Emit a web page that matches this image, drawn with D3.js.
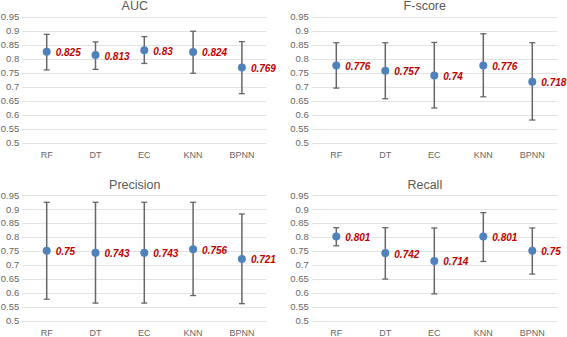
<!DOCTYPE html>
<html>
<head>
<meta charset="utf-8">
<script src="https://cdn.jsdelivr.net/npm/d3@7"></script>
<style>
  body { margin: 0; background: #fff; }
  svg { display: block; font-family: "Liberation Sans", Arial, sans-serif; }
</style>
</head>
<body>
<svg id="chart" width="567" height="337"></svg>
<script>
// models on the x axis
var categories = ["RF", "DT", "EC", "KNN", "BPNN"];
var yTicks = [0.5, 0.55, 0.6, 0.65, 0.7, 0.75, 0.8, 0.85, 0.9, 0.95];

// AUC
var aucMean = [0.825, 0.813, 0.83, 0.824, 0.769];
var aucLow  = [0.760, 0.762, 0.783, 0.748, 0.675];
var aucHigh = [0.887, 0.860, 0.879, 0.898, 0.861];

// F-score
var fMean = [0.776, 0.757, 0.74, 0.776, 0.718];
var fLow  = [0.695, 0.657, 0.624, 0.664, 0.581];
var fHigh = [0.857, 0.857, 0.858, 0.889, 0.857];

// Precision
var precMean = [0.75, 0.743, 0.743, 0.756, 0.721];
var precLow  = [0.577, 0.563, 0.563, 0.590, 0.561];
var precHigh = [0.924, 0.924, 0.924, 0.924, 0.882];

// Recall
var recMean = [0.801, 0.742, 0.714, 0.801, 0.75];
var recLow  = [0.768, 0.649, 0.596, 0.712, 0.667];
var recHigh = [0.833, 0.833, 0.832, 0.887, 0.832];

var svg = d3.select("#chart");

// panel placement (left, right, top, bottom of the plot area)
var panels = [
  {title: "AUC",       mean: aucMean,  low: aucLow,  high: aucHigh,  x0: 22.3,  x1: 266.3, y0: 16.7,  y1: 142.7},
  {title: "F-score",   mean: fMean,    low: fLow,    high: fHigh,    x0: 311.8, x1: 556.8, y0: 16.7,  y1: 142.7},
  {title: "Precision", mean: precMean, low: precLow, high: precHigh, x0: 22.3,  x1: 266.3, y0: 195,   y1: 320.7},
  {title: "Recall",    mean: recMean,  low: recLow,  high: recHigh,  x0: 311.8, x1: 556.8, y0: 195,   y1: 320.7}
];

panels.forEach(function(p) {
  var g = svg.append("g");

  var x = d3.scaleBand()
      .domain(categories)
      .range([p.x0, p.x1]);

  var y = d3.scaleLinear()
      .domain([0.5, 0.95])
      .range([p.y1, p.y0]);

  // gridlines
  g.selectAll(".grid")
    .data(yTicks)
    .enter().append("line")
      .attr("x1", p.x0)
      .attr("x2", p.x1)
      .attr("y1", function(d) { return Math.round(y(d)) + 0.5; })
      .attr("y2", function(d) { return Math.round(y(d)) + 0.5; })
      .style("stroke", "#e2e2e2")
      .style("stroke-width", 1);

  // y axis labels
  var yAxis = d3.axisLeft(y)
      .tickValues(yTicks)
      .tickSize(0)
      .tickPadding(3)
      .tickFormat(function(d) { return String(+d.toFixed(2)); });

  var gy = g.append("g")
      .attr("transform", "translate(" + p.x0 + ",0)")
      .call(yAxis);
  gy.select(".domain").remove();
  gy.selectAll("text")
      .style("font-family", "Liberation Sans, Arial, sans-serif")
      .style("font-size", "9.5px")
      .style("fill", "#666");

  // x axis labels
  var xAxis = d3.axisBottom(x).tickSize(0).tickPadding(9);
  var gx = g.append("g")
      .attr("transform", "translate(0," + p.y1 + ")")
      .call(xAxis);
  gx.select(".domain").remove();
  gx.selectAll("text")
      .style("font-family", "Liberation Sans, Arial, sans-serif")
      .style("font-size", "9px")
      .style("fill", "#666");

  // title
  g.append("text")
    .attr("x", (p.x0 + p.x1) / 2 - 9.5)
    .attr("y", p.y0 - 6.5)
    .attr("text-anchor", "middle")
    .style("font-size", "12.5px")
    .style("fill", "#595959")
    .text(p.title);

  var cx = function(i) { return x(categories[i]) + x.bandwidth() / 2; };

  // error bars
  var bars = g.selectAll(".err")
    .data(p.mean)
    .enter().append("g");

  bars.append("line")
    .attr("x1", function(d, i) { return cx(i); })
    .attr("x2", function(d, i) { return cx(i); })
    .attr("y1", function(d, i) { return y(p.low[i]); })
    .attr("y2", function(d, i) { return y(p.high[i]); })
    .style("stroke", "#666")
    .style("stroke-width", 1.5);

  bars.append("line")
    .attr("x1", function(d, i) { return cx(i) - 3; })
    .attr("x2", function(d, i) { return cx(i) + 3; })
    .attr("y1", function(d, i) { return y(p.low[i]); })
    .attr("y2", function(d, i) { return y(p.low[i]); })
    .style("stroke", "#666")
    .style("stroke-width", 1.3);

  bars.append("line")
    .attr("x1", function(d, i) { return cx(i) - 3; })
    .attr("x2", function(d, i) { return cx(i) + 3; })
    .attr("y1", function(d, i) { return y(p.high[i]); })
    .attr("y2", function(d, i) { return y(p.high[i]); })
    .style("stroke", "#666")
    .style("stroke-width", 1.3);

  // points
  bars.append("circle")
    .attr("cx", function(d, i) { return cx(i); })
    .attr("cy", function(d) { return y(d); })
    .attr("r", 4)
    .style("fill", "#4f81bd");

  // value labels
  bars.append("text")
    .attr("x", function(d, i) { return cx(i) + 9; })
    .attr("y", function(d) { return y(d) + 4.5; })
    .style("font-size", "10px")
    .style("font-weight", "bold")
    .style("font-style", "italic")
    .style("fill", "#c00000")
    .text(function(d) { return String(d); });
});
</script>
</body>
</html>
